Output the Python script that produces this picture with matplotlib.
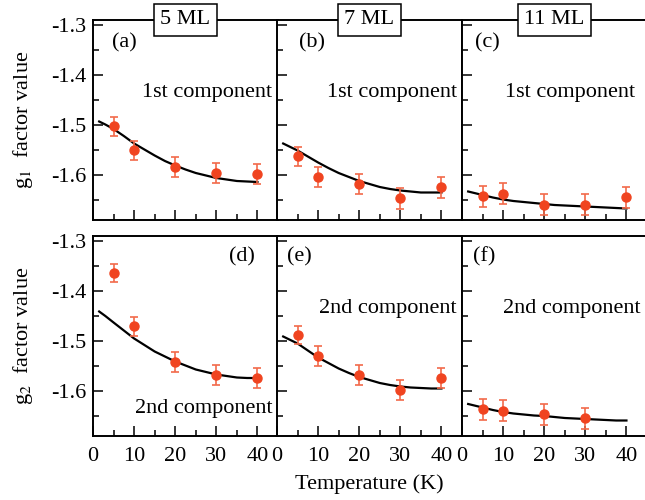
import numpy as np
import matplotlib
matplotlib.use("Agg")
import matplotlib.pyplot as plt
from matplotlib.ticker import MultipleLocator

plt.rcParams['font.family'] = ['Liberation Serif', 'DejaVu Serif']
plt.rcParams['mathtext.fontset'] = 'stix'

# measured points (temperature in K)
temp = [5, 10, 20, 30, 40]
g1_5ml = [-1.503, -1.551, -1.585, -1.597, -1.598]
g1_5ml_err = [0.019, 0.019, 0.02, 0.02, 0.02]
g1_7ml = [-1.563, -1.605, -1.619, -1.647, -1.625]
g1_7ml_err = [0.019, 0.02, 0.02, 0.021, 0.021]
g1_11ml = [-1.643, -1.638, -1.660, -1.660, -1.645]
g1_11ml_err = [0.021, 0.021, 0.021, 0.021, 0.021]
g2_5ml = [-1.363, -1.470, -1.541, -1.568, -1.573]
g2_5ml_err = [0.018, 0.019, 0.02, 0.02, 0.02]
g2_7ml = [-1.488, -1.529, -1.567, -1.598, -1.574]
g2_7ml_err = [0.018, 0.02, 0.02, 0.02, 0.02]
temp_f = [5, 10, 20, 30]
g2_11ml = [-1.636, -1.639, -1.646, -1.654]
g2_11ml_err = [0.021, 0.021, 0.021, 0.021]

# fit curves
temp_fit = [1.5, 3, 5, 7.5, 10, 12.5, 15, 17.5, 20, 22.5, 25, 27.5, 30, 32.5, 35, 37.5, 40]
fit_a = [-1.493, -1.499, -1.508, -1.522, -1.537, -1.549, -1.561, -1.572, -1.581,
         -1.589, -1.596, -1.601, -1.606, -1.609, -1.612, -1.613, -1.614]
fit_b = [-1.537, -1.543, -1.551, -1.563, -1.575, -1.586, -1.596, -1.604, -1.612,
         -1.618, -1.624, -1.628, -1.631, -1.633, -1.635, -1.635, -1.635]
fit_c = [-1.633, -1.636, -1.640, -1.645, -1.649, -1.652, -1.654, -1.656, -1.658,
         -1.660, -1.661, -1.662, -1.663, -1.664, -1.665, -1.666, -1.667]
fit_d = [-1.441, -1.450, -1.463, -1.479, -1.495, -1.508, -1.521, -1.531, -1.541,
         -1.549, -1.557, -1.562, -1.567, -1.570, -1.573, -1.574, -1.574]
fit_e = [-1.491, -1.497, -1.505, -1.519, -1.533, -1.544, -1.555, -1.564, -1.572,
         -1.578, -1.584, -1.588, -1.591, -1.593, -1.594, -1.595, -1.595]
fit_f = [-1.626, -1.629, -1.633, -1.638, -1.642, -1.645, -1.647, -1.649, -1.650,
         -1.652, -1.654, -1.655, -1.656, -1.657, -1.658, -1.659, -1.659]

titles = ["5 ML", "7 ML", "11 ML"]

panels = [
    # row, col, x, y, err, fit, label, label pos, comp text, comp pos
    (0, 0, temp, g1_5ml, g1_5ml_err, fit_a, "(a)", (0.10, 0.885, 'left'), "1st component", (0.968, 0.635)),
    (0, 1, temp, g1_7ml, g1_7ml_err, fit_b, "(b)", (0.12, 0.885, 'left'), "1st component", (0.973, 0.635)),
    (0, 2, temp, g1_11ml, g1_11ml_err, fit_c, "(c)", (0.07, 0.885, 'left'), "1st component", (0.935, 0.635)),
    (1, 0, temp, g2_5ml, g2_5ml_err, fit_d, "(d)", (0.876, 0.895, 'right'), "2nd component", (0.973, 0.14)),
    (1, 1, temp, g2_7ml, g2_7ml_err, fit_e, "(e)", (0.054, 0.895, 'left'), "2nd component", (0.973, 0.64)),
    (1, 2, temp_f, g2_11ml, g2_11ml_err, fit_f, "(f)", (0.06, 0.895, 'left'), "2nd component", (0.968, 0.64)),
]

fig = plt.figure(figsize=(6.45, 5), dpi=100)

lefts = [93 / 645, 277 / 645, 462 / 645]
width = 185 / 645
bottoms = [1 - 220 / 500, 1 - 436 / 500]
height = 0.4

for row, col, x, y, err, fit, lab, labpos, comp, comppos in panels:
    ax = fig.add_axes([lefts[col], bottoms[row], width, height])
    ax.plot(temp_fit, fit, color='black', lw=1.6, zorder=2)
    ax.errorbar(x, y, yerr=err, fmt='o', color='#f04420', ms=6.5,
                ecolor='#f26a4a', elinewidth=1.2, capsize=3, capthick=1.2, zorder=3)
    ax.set_xlim(0, 45)
    ax.set_ylim(-1.69, -1.29)
    ax.xaxis.set_major_locator(MultipleLocator(10))
    ax.xaxis.set_minor_locator(MultipleLocator(5))
    ax.yaxis.set_major_locator(MultipleLocator(0.1))
    ax.yaxis.set_minor_locator(MultipleLocator(0.05))
    ax.tick_params(which='both', direction='in', top=False, right=False,
                   labelsize=16, width=1.1)
    ax.tick_params(which='major', length=7)
    ax.tick_params(which='minor', length=4)
    ax.tick_params(axis='x', pad=8)
    ax.tick_params(axis='y', pad=5)
    for s in ax.spines.values():
        s.set_linewidth(1.4)
    if col == 0:
        ax.set_yticklabels([f"{v:.1f}" for v in ax.get_yticks()])
    else:
        ax.set_yticklabels([])
    if row == 0:
        ax.set_xticklabels([])
        ax.text(0.5, 1.0, titles[col], transform=ax.transAxes, ha='center',
                va='center', fontsize=16,
                bbox=dict(boxstyle='square,pad=0.3', fc='white', ec='black', lw=1.1))
    else:
        ax.set_xticklabels([f"{int(v)}" for v in ax.get_xticks()])
    ax.text(labpos[0], labpos[1], lab, transform=ax.transAxes, ha=labpos[2],
            va='center', fontsize=16)
    ax.text(comppos[0], comppos[1], comp, transform=ax.transAxes, ha='right',
            va='center', fontsize=16)

fig.text(23 / 645, 1 - 120 / 500, "g$_1$  factor value", rotation=90,
         ha='center', va='center', fontsize=16)
fig.text(23 / 645, 1 - 336 / 500, "g$_2$  factor value", rotation=90,
         ha='center', va='center', fontsize=16)
fig.text(369 / 645, 1 - 484 / 500, "Temperature (K)", ha='center',
         va='center', fontsize=16)

fig.savefig("out.png", dpi=100)
